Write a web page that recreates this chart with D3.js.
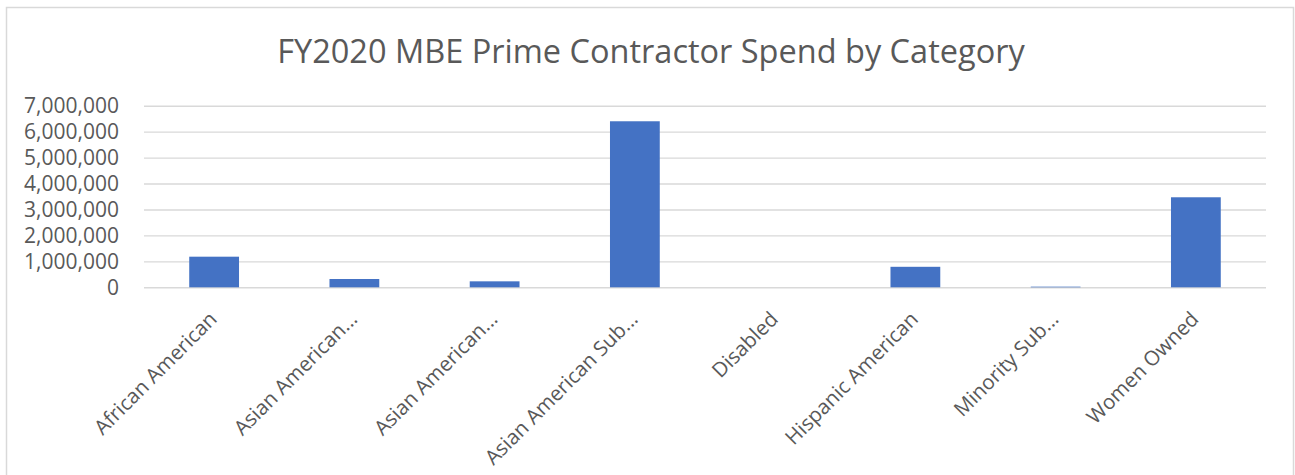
<!DOCTYPE html>
<html>
<head>
<meta charset="utf-8">
<script src="https://cdn.jsdelivr.net/npm/d3@7"></script>
<style>
  body { margin: 0; background: #fff; }
  text { font-family: "Open Sans", sans-serif; fill: #595959; }
</style>
</head>
<body>
<svg id="chart" width="1295" height="475"></svg>
<script>
// chart data
const categories = [
    'African American',
    'Asian American...',
    'Asian American...',
    'Asian American Sub...',
    'Disabled',
    'Hispanic American',
    'Minority Sub...',
    'Women Owned'
];
const spend = [1180000, 320000, 230000, 6400000, 0, 790000, 25000, 3470000];
const yTicks = [0, 1000000, 2000000, 3000000, 4000000, 5000000, 6000000, 7000000];
const title = 'FY2020 MBE Prime Contractor Spend by Category';

const width = 1295, height = 475;
const margin = { top: 105.7, right: 29, bottom: 187.7, left: 144 };

const svg = d3.select('#chart');

// outer chart border
svg.append('rect')
    .attr('x', 6.5)
    .attr('y', 7.5)
    .attr('width', 1287)
    .attr('height', 480)
    .attr('fill', 'none')
    .attr('stroke', '#d9d9d9')
    .attr('stroke-width', 1.5);

svg.append('text')
    .attr('x', 651)
    .attr('y', 63)
    .attr('text-anchor', 'middle')
    .style('font-size', '32.5px')
    .text(title);

const x = d3.scaleBand()
    .domain(d3.range(categories.length))
    .range([margin.left, width - margin.right])
    .paddingInner(0.645)
    .paddingOuter(0.3225);

const y = d3.scaleLinear()
    .domain([0, 7000000])
    .range([height - margin.bottom, margin.top]);

// gridlines + y labels
const yAxis = svg.append('g')
    .attr('transform', `translate(${margin.left},0)`)
    .call(d3.axisLeft(y)
        .tickValues(yTicks)
        .tickFormat(d3.format(','))
        .tickSize(-(width - margin.left - margin.right))
        .tickPadding(25));

yAxis.select('.domain').remove();
yAxis.selectAll('.tick line')
    .attr('stroke', '#d9d9d9')
    .attr('stroke-width', 1.4);
yAxis.selectAll('.tick text')
    .style('font-size', '21px')
    .attr('fill', '#595959');

// bars
svg.append('g')
    .selectAll('rect')
    .data(spend)
    .enter()
    .append('rect')
    .attr('x', (d, i) => x(i))
    .attr('width', x.bandwidth())
    .attr('y', (d) => y(d))
    .attr('height', (d) => y(0) - y(d))
    .attr('fill', '#4472c4');

// rotated category labels
const xAxis = svg.append('g')
    .attr('transform', `translate(0,${y(0)})`)
    .call(d3.axisBottom(x)
        .tickFormat((i) => categories[i])
        .tickSize(0));

xAxis.select('.domain').remove();
xAxis.selectAll('.tick text')
    .style('font-size', '20.5px')
    .attr('fill', '#595959')
    .attr('text-anchor', 'end')
    .attr('dy', 0)
    .attr('transform', 'translate(2,31) rotate(-45)');
</script>
</body>
</html>
